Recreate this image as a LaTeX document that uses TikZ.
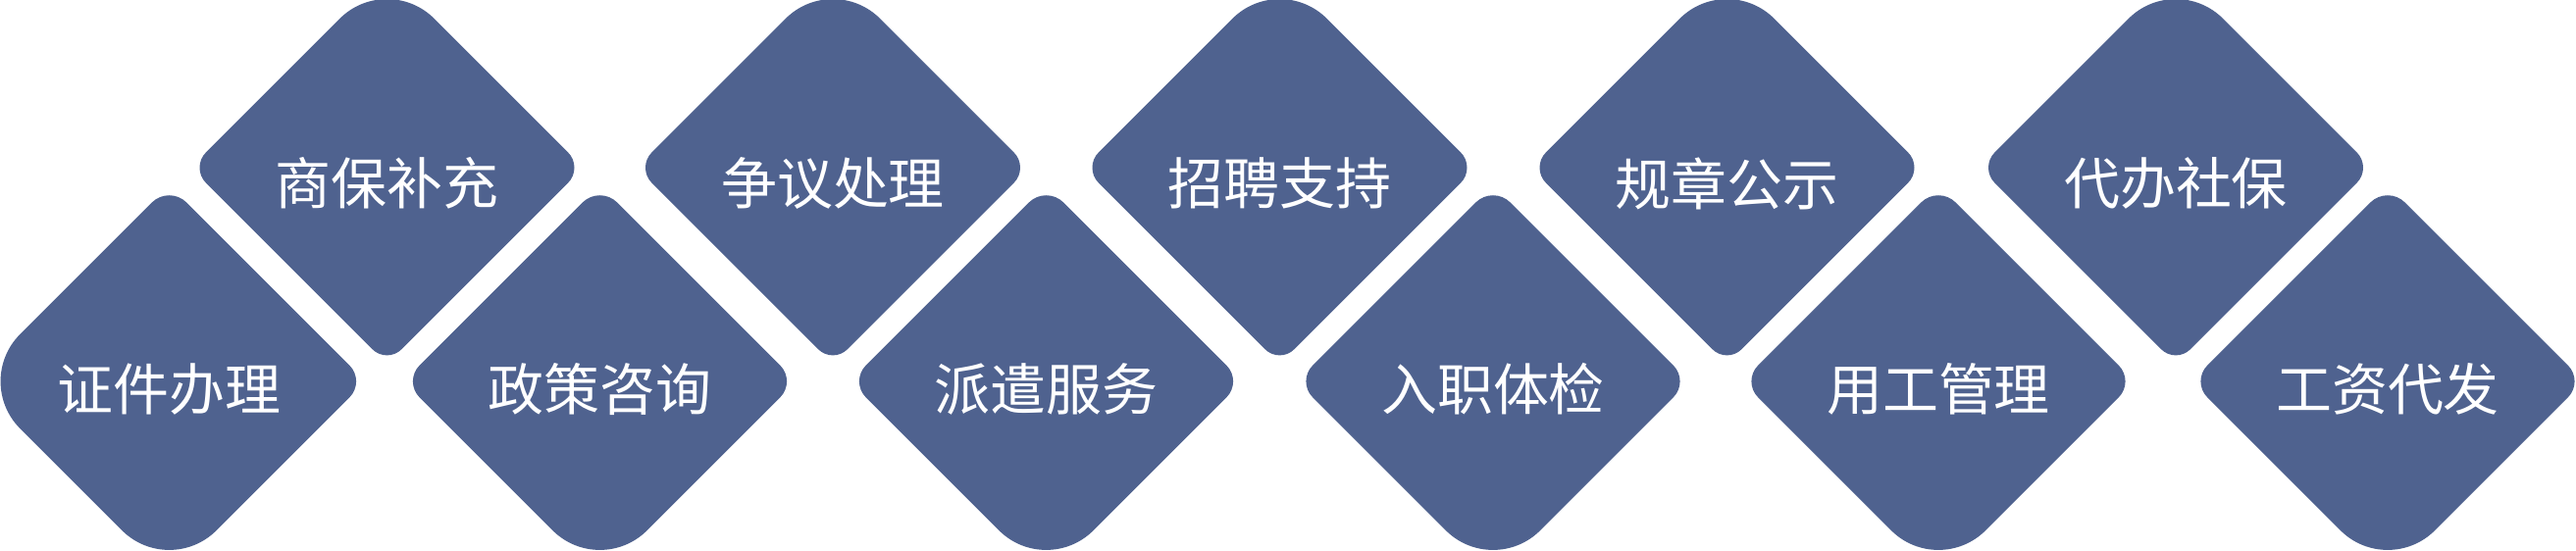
\documentclass[tikz,border=0pt]{standalone}
\usepackage{fontspec}
\newfontfamily\cjk{Noto Sans CJK SC}
\usetikzlibrary{shapes.geometric,calc}
\definecolor{dfill}{RGB}{79,98,143}
% #1 node name, #2..#5 corner radii (cm) at north, east, south, west
\newcommand\roundeddiamond[5]{%
  \pgfmathsetmacro\rdN{0.4477*#2}%
  \pgfmathsetmacro\rdE{0.4477*#3}%
  \pgfmathsetmacro\rdS{0.4477*#4}%
  \pgfmathsetmacro\rdW{0.4477*#5}%
  \fill[dfill]
    ($(#1.west)!#5cm!(#1.north)$)
    -- ($(#1.north)!#2cm!(#1.west)$)
    .. controls ($(#1.north)!\rdN cm!(#1.west)$) and ($(#1.north)!\rdN cm!(#1.east)$) .. ($(#1.north)!#2cm!(#1.east)$)
    -- ($(#1.east)!#3cm!(#1.north)$)
    .. controls ($(#1.east)!\rdE cm!(#1.north)$) and ($(#1.east)!\rdE cm!(#1.south)$) .. ($(#1.east)!#3cm!(#1.south)$)
    -- ($(#1.south)!#4cm!(#1.east)$)
    .. controls ($(#1.south)!\rdS cm!(#1.east)$) and ($(#1.south)!\rdS cm!(#1.west)$) .. ($(#1.south)!#4cm!(#1.west)$)
    -- ($(#1.west)!#5cm!(#1.south)$)
    .. controls ($(#1.west)!\rdW cm!(#1.south)$) and ($(#1.west)!\rdW cm!(#1.north)$) .. ($(#1.west)!#5cm!(#1.north)$)
    -- cycle;
}
\begin{document}
\begin{tikzpicture}[x=0.01cm,y=-0.01cm,
  dia/.style={diamond, aspect=1, minimum width=4cm, minimum height=4cm, inner sep=0pt, outer sep=0pt},
  lbl/.style={text=white, font=\cjk\fontsize{16.2pt}{20pt}\selectfont, inner sep=0pt}]
\fill[white] (0,0) rectangle (2626,562);
\useasboundingbox (0,0) rectangle (2626,562);
\clip (0,0) rectangle (2626,562);
\foreach \x/\t/\w [count=\i] in {172.5/证件办理/0.68, 611.5/政策咨询/0.23, 1066.5/派遣服务/0.23, 1522/入职体检/0.23, 1976/用工管理/0.23, 2434/工资代发/0.23} {
  \node[dia] (b\i) at (\x,389) {};
  \roundeddiamond{b\i}{0.25}{0.23}{0.68}{\w}
  \node[lbl] (bl\i) at (\x,397) {\t};
}
\foreach \x/\t [count=\i] in {394.5/商保补充, 849/争议处理, 1304.5/招聘支持, 1760.5/规章公示, 2218/代办社保} {
  \node[dia] (t\i) at (\x,171) {};
  \roundeddiamond{t\i}{0.68}{0.22}{0.21}{0.22}
  \node[lbl] (tl\i) at (\x,187) {\t};
}
\end{tikzpicture}
\end{document}
